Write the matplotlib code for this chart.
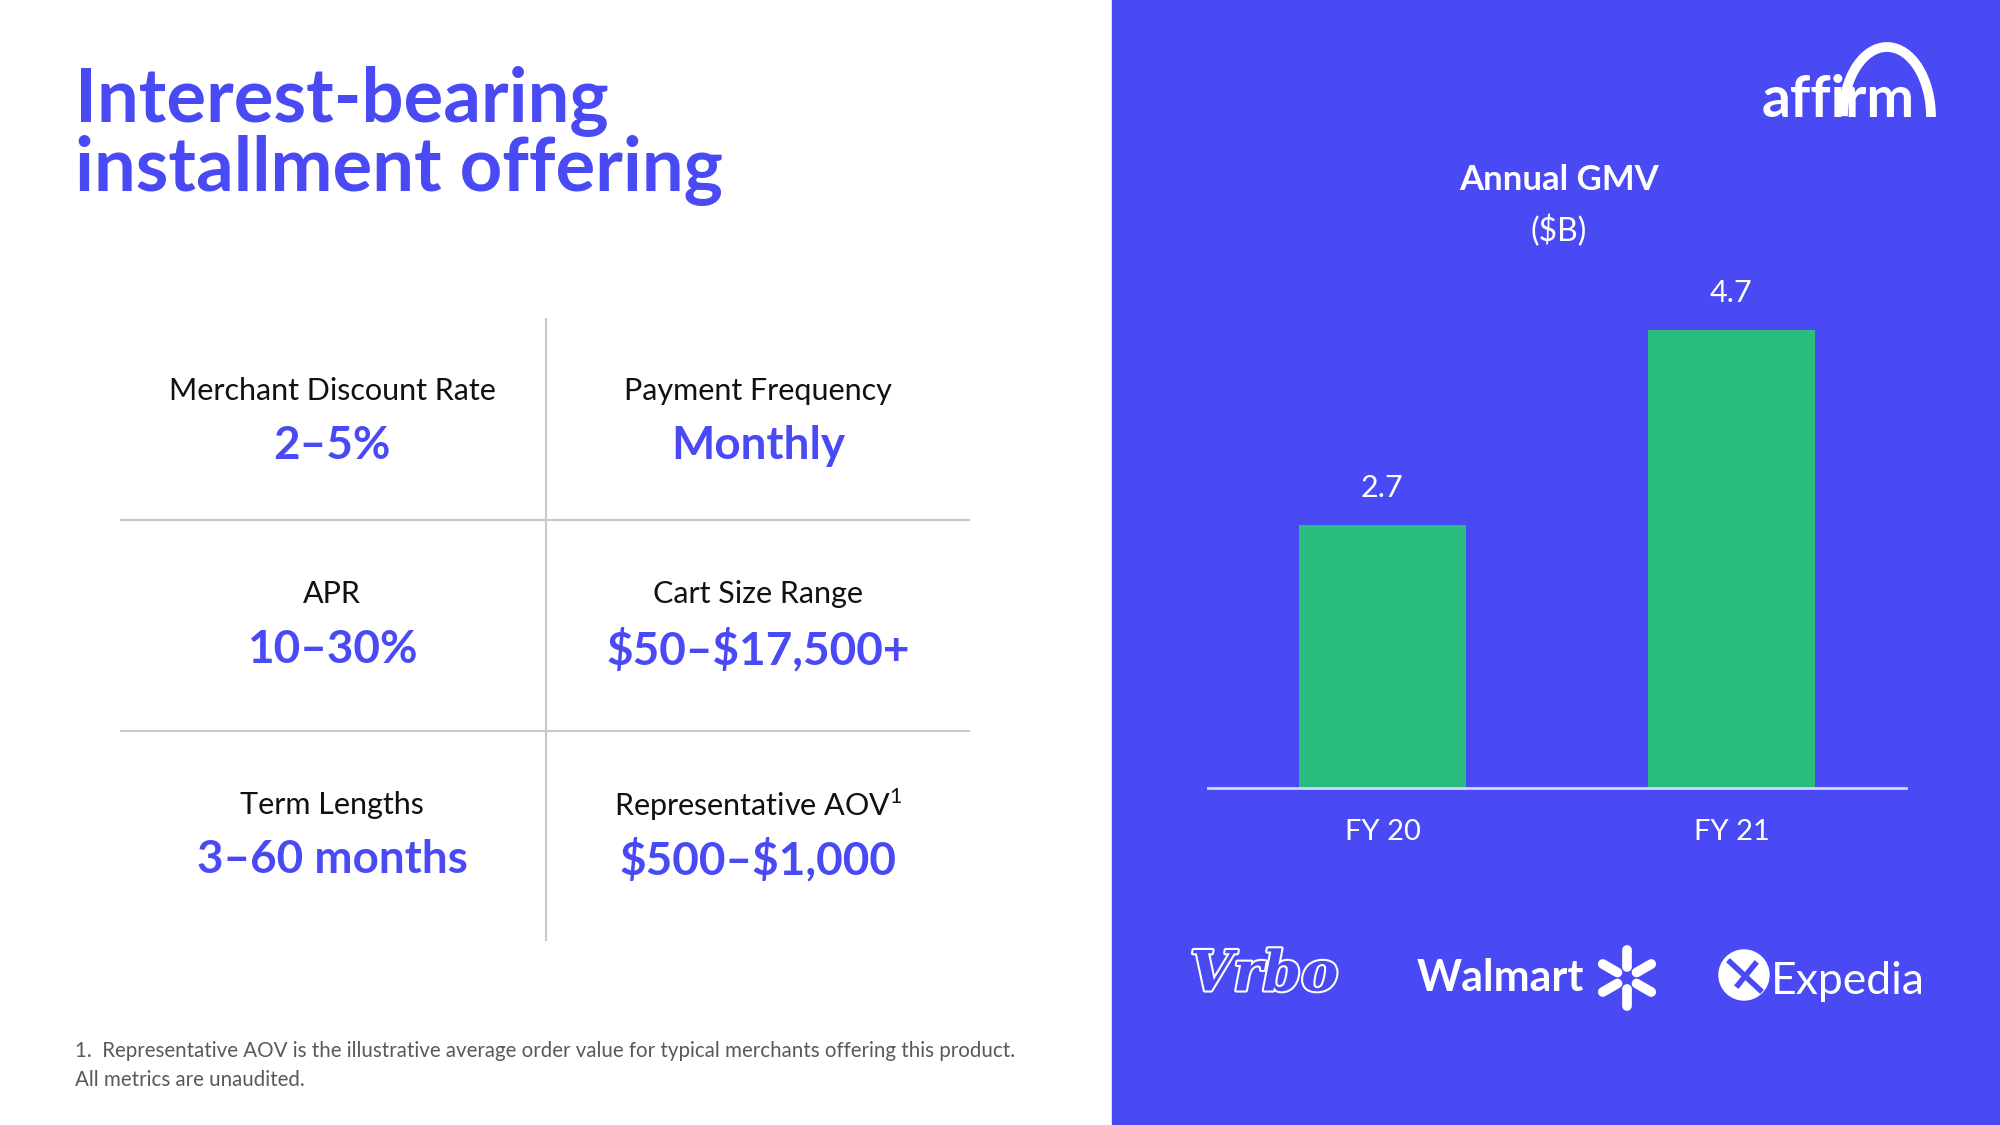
import math
import matplotlib
matplotlib.use("Agg")
import matplotlib.pyplot as plt
import matplotlib.patheffects as pe
from matplotlib.patches import Rectangle, Arc, Ellipse
from matplotlib.lines import Line2D

# data
years = ["FY 20", "FY 21"]
gmv = [2.7, 4.7]

cell_labels = ["Merchant Discount Rate", "Payment Frequency",
               "APR", "Cart Size Range",
               "Term Lengths", "Representative AOV$^{1}$"]
cell_values = ["2–5%", "Monthly",
               "10–30%", "\\$50–\\$17,500+",
               "3–60 months", "\\$500–\\$1,000"]

footnote = ["1.  Representative AOV is the illustrative average order value for typical merchants offering this product.",
            "All metrics are unaudited."]

BLUE = "#4A4AF4"
GREEN = "#2BBD7E"

plt.rcParams["font.family"] = ["Lato", "DejaVu Sans"]
plt.rcParams["mathtext.fontset"] = "custom"
plt.rcParams["mathtext.rm"] = "Lato"
plt.rcParams["mathtext.bf"] = "Lato:bold"

W, H = 2000, 1125
fig = plt.figure(figsize=(20, 11.25), dpi=100)
fig.patch.set_facecolor("white")


def fx(px):
    return px / W


def fy(py):
    return 1 - py / H


# blue panel on the right (behind the chart axes)
fig.patches.append(Rectangle((fx(1112), 0), 1 - fx(1112), 1, transform=fig.transFigure,
                             color=BLUE, zorder=-5))

# title
fig.text(fx(75), fy(122), "Interest-bearing", color=BLUE, fontsize=53.5, fontweight="bold",
         va="baseline")
fig.text(fx(75), fy(191), "installment offering", color=BLUE, fontsize=53.5, fontweight="bold",
         va="baseline")

# grid lines
GRID = "#c8c8c8"
fig.add_artist(Line2D([fx(546), fx(546)], [fy(319), fy(940)], transform=fig.transFigure,
                      color=GRID, lw=1.5))
for yy in (520, 731):
    fig.add_artist(Line2D([fx(121), fx(969)], [fy(yy), fy(yy)], transform=fig.transFigure,
                          color=GRID, lw=1.5))

col_x = [332, 758]
label_y = [391, 594, 805]
value_y = [446, 650, 860]
for i, (lab, val) in enumerate(zip(cell_labels, cell_values)):
    r, c = divmod(i, 2)
    fig.text(fx(col_x[c]), fy(label_y[r]), lab, ha="center", va="center",
             fontsize=22, color="#111111")
    fig.text(fx(col_x[c]), fy(value_y[r]), val, ha="center", va="center",
             fontsize=33, fontweight="bold", color=BLUE)

# footnote
fig.text(fx(75), fy(1051), footnote[0], fontsize=14.8, color="#595959", va="center")
fig.text(fx(75), fy(1080), footnote[1], fontsize=14.8, color="#595959", va="center")

# chart
ax = fig.add_axes([fx(1208), fy(788), fx(1906) - fx(1208), fy(301) - fy(788)])
ax.set_facecolor("none")
x = range(len(years))
bars = ax.bar(x, gmv, width=0.48, color=GREEN)
ax.set_xlim(-0.5, 1.5)
ax.set_ylim(0, 5)
for b, v in zip(bars, gmv):
    ax.annotate(f"{v}", (b.get_x() + b.get_width() / 2, v), xytext=(0, 27),
                textcoords="offset points", ha="center", va="center",
                color="white", fontsize=22)
ax.set_xticks(list(x))
ax.set_xticklabels(years, color="white", fontsize=21)
ax.tick_params(axis="x", length=0, pad=22.5)
ax.set_yticks([])
for s in ("top", "left", "right"):
    ax.spines[s].set_visible(False)
ax.spines["bottom"].set_color("#d4d6fa")
ax.spines["bottom"].set_linewidth(2)

fig.text(fx(1559), fy(180), "Annual GMV", ha="center", va="center", color="white",
         fontsize=25, fontweight="bold")
fig.text(fx(1559), fy(231), "($B)", ha="center", va="center", color="white", fontsize=23)

# affirm logo
fig.text(fx(1762), fy(117), "affirm", color="white", fontsize=41, fontweight="bold",
         va="baseline")
fig.patches.append(Arc((fx(1887), fy(117)), fx(88), 140 / H, theta1=0, theta2=178,
                       transform=fig.transFigure, color="white", lw=7))

# partner logos
fig.text(fx(1190), fy(975), "Vrbo", color=BLUE, fontsize=40, fontstyle="italic",
         fontweight="bold", va="center", family="DejaVu Serif",
         path_effects=[pe.withStroke(linewidth=3, foreground="white")])
fig.text(fx(1417), fy(978), "Walmart", color="white", fontsize=31, fontweight="bold",
         va="center")
for ang in range(90, 450, 60):
    a = math.radians(ang)
    x0, y0 = 1627 + 11 * math.cos(a), 978 - 11 * math.sin(a)
    x1, y1 = 1627 + 28 * math.cos(a), 978 - 28 * math.sin(a)
    fig.add_artist(Line2D([fx(x0), fx(x1)], [fy(y0), fy(y1)], transform=fig.transFigure,
                          color="white", lw=7, solid_capstyle="round"))
fig.patches.append(Ellipse((fx(1744), fy(975)), 50 / W, 50 / H, transform=fig.transFigure,
                           color="white"))
# plane inside the Expedia globe
fig.add_artist(Line2D([fx(1730), fx(1760)], [fy(962), fy(990)], transform=fig.transFigure,
                      color=BLUE, lw=4))
fig.add_artist(Line2D([fx(1738), fx(1755)], [fy(985), fy(964)], transform=fig.transFigure,
                      color=BLUE, lw=4))
fig.text(fx(1771), fy(982), "Expedia", color="white", fontsize=32, va="center")

fig.savefig("out.png", dpi=100)
